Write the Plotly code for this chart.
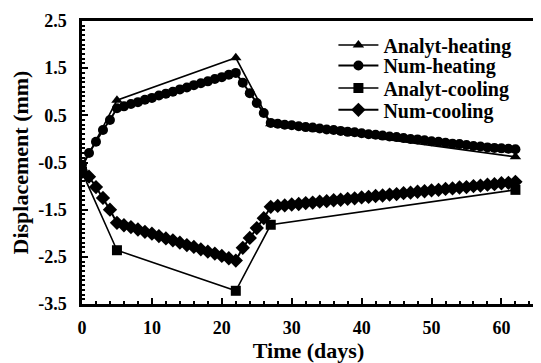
import plotly.graph_objects as go

# Analytical solutions (days, mm)
analyt_days = [0, 5, 22, 27, 62]
analyt_heating = [-0.6, 0.82, 1.72, 0.32, -0.38]
analyt_cooling = [-0.7, -2.36, -3.22, -1.82, -1.08]

# Numerical solutions, daily (0..62)
num_days = list(range(0, 63))
num_heating = [
    -0.55, -0.30, -0.06, 0.19, 0.40, 0.65, 0.69, 0.74, 0.78, 0.83,
    0.87, 0.92, 0.96, 1.00, 1.05, 1.09, 1.14, 1.18, 1.22, 1.27,
    1.31, 1.36, 1.40, 1.19, 0.97, 0.76, 0.55, 0.34, 0.32, 0.30,
    0.29, 0.27, 0.25, 0.24, 0.22, 0.20, 0.19, 0.17, 0.15, 0.14,
    0.12, 0.10, 0.09, 0.07, 0.05, 0.04, 0.02, 0.00, -0.01, -0.03,
    -0.05, -0.06, -0.08, -0.10, -0.11, -0.13, -0.15, -0.16, -0.18, -0.19,
    -0.20, -0.21, -0.22,
]
num_cooling = [
    -0.70, -0.80, -1.02, -1.25, -1.50, -1.78, -1.83, -1.87, -1.92, -1.97,
    -2.01, -2.06, -2.11, -2.15, -2.20, -2.25, -2.29, -2.34, -2.39, -2.43,
    -2.48, -2.53, -2.58, -2.31, -2.10, -1.89, -1.68, -1.44, -1.42, -1.41,
    -1.39, -1.38, -1.36, -1.35, -1.33, -1.32, -1.30, -1.29, -1.27, -1.26,
    -1.24, -1.23, -1.21, -1.20, -1.18, -1.17, -1.15, -1.14, -1.12, -1.11,
    -1.09, -1.08, -1.06, -1.05, -1.03, -1.02, -1.00, -0.99, -0.97, -0.96,
    -0.94, -0.93, -0.91,
]

x_ticks = [0, 10, 20, 30, 40, 50, 60]
y_ticks = [2.5, 1.5, 0.5, -0.5, -1.5, -2.5, -3.5]

FONT = "Liberation Serif"
BOLD = lambda s: dict(family=FONT, size=s, color="black", weight="bold")

fig = go.Figure()
fig.add_trace(go.Scatter(
    x=analyt_days, y=analyt_heating, name="Analyt-heating", mode="lines+markers",
    line=dict(color="black", width=1.6), legend="legend",
    marker=dict(symbol="triangle-up", size=10, color="black"),
))
fig.add_trace(go.Scatter(
    x=num_days, y=num_heating, name="Num-heating", mode="lines+markers",
    line=dict(color="black", width=2), legend="legend2",
    marker=dict(symbol="circle", size=10, color="black"),
))
fig.add_trace(go.Scatter(
    x=analyt_days, y=analyt_cooling, name="Analyt-cooling", mode="lines+markers",
    line=dict(color="black", width=1.6), legend="legend3",
    marker=dict(symbol="square", size=10, color="black"),
))
fig.add_trace(go.Scatter(
    x=num_days, y=num_cooling, name="Num-cooling", mode="lines+markers",
    line=dict(color="black", width=2), legend="legend4",
    marker=dict(symbol="diamond", size=11, color="black"),
))

def leg(ypos):
    return dict(
        x=0.555, y=ypos, xanchor="left", yanchor="middle",
        bgcolor="rgba(0,0,0,0)", borderwidth=0,
        font=BOLD(20), itemwidth=40,
    )

# The page body has an 8px margin, so the figure is sized to fit the window.
fig.update_layout(
    width=533, height=355,
    margin=dict(l=74, r=3, t=13, b=59),
    paper_bgcolor="white", plot_bgcolor="white",
    font=dict(family=FONT, size=18, color="black"),
    showlegend=True,
    legend=leg(0.915),
    legend2=leg(0.843),
    legend3=leg(0.763),
    legend4=leg(0.686),
    xaxis=dict(
        range=[0, 64.8], tickvals=x_ticks, ticktext=[str(v) for v in x_ticks],
        showgrid=False, zeroline=False,
        showline=True, linecolor="black", linewidth=2.5, mirror=True,
        ticks="inside", ticklen=6, tickwidth=2, tickcolor="black",
        minor=dict(ticks="inside", dtick=2, tick0=0, ticklen=3, tickwidth=2, tickcolor="black"),
        tickfont=BOLD(18), ticklabelstandoff=6,
        title=dict(text="Time (days)", font=BOLD(22), standoff=5),
    ),
    yaxis=dict(
        range=[-3.5, 2.5], tickvals=y_ticks, ticktext=[f"{v:.1f}" for v in y_ticks],
        showgrid=False, zeroline=False,
        showline=True, linecolor="black", linewidth=2.5, mirror=True,
        ticks="inside", ticklen=6, tickwidth=2, tickcolor="black",
        minor=dict(ticks="inside", dtick=0.1, tick0=-3.5, ticklen=3, tickwidth=2, tickcolor="black"),
        tickfont=BOLD(18), ticklabelstandoff=9,
        title=dict(text="Displacement (mm)", font=BOLD(22), standoff=6),
    ),
)

fig.write_html("out.html")
